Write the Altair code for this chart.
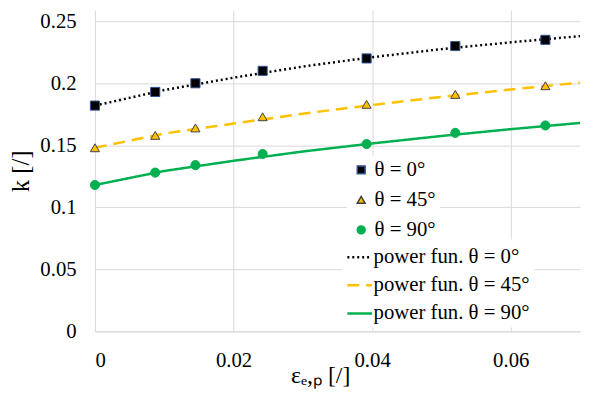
import altair as alt
import pandas as pd

# measured points
x_pts = [0, 0.0087, 0.0145, 0.0242, 0.0392, 0.052, 0.065]
k_0 = [0.182, 0.193, 0.200, 0.210, 0.220, 0.230, 0.235]
k_45 = [0.148, 0.158, 0.164, 0.173, 0.183, 0.191, 0.198]
k_90 = [0.118, 0.128, 0.134, 0.143, 0.151, 0.160, 0.166]

# power-function fit curves
x_fit = [0, 0.01, 0.02, 0.03, 0.04, 0.05, 0.06, 0.07]
f_0 = [0.182, 0.1945, 0.2045, 0.2135, 0.2210, 0.2275, 0.2330, 0.2380]
f_45 = [0.148, 0.1595, 0.1675, 0.1755, 0.1825, 0.1890, 0.1950, 0.2005]
f_90 = [0.118, 0.1293, 0.1375, 0.1450, 0.1515, 0.1575, 0.1630, 0.1680]

pt_names = ["θ = 0°", "θ = 45°", "θ = 90°"]
fit_names = ["power fun. θ = 0°", "power fun. θ = 45°", "power fun. θ = 90°"]

pts = pd.concat([
    pd.DataFrame({"x": x_pts, "k": v, "series": n})
    for v, n in zip([k_0, k_45, k_90], pt_names)
])
fits = pd.concat([
    pd.DataFrame({"x": x_fit, "k": v, "fit": n})
    for v, n in zip([f_0, f_45, f_90], fit_names)
])

FONT = "Liberation Serif"
xscale = alt.Scale(domain=[0, 0.07], nice=False, zero=False)
yscale = alt.Scale(domain=[0, 0.2588], nice=False)

xaxis = alt.Axis(values=[0, 0.02, 0.04, 0.06], format="~g", title="εₑ,ₚ [/]",
                 titleX=228, titleY=52, titleBaseline="alphabetic", titleAlign="center",
                 titleFontSize=24, labelFont=FONT, titleFont=FONT)
yaxis = alt.Axis(values=[0, 0.05, 0.1, 0.15, 0.2, 0.25], format="~g", title="k [/]",
                 domain=False, titlePadding=6, titleFontSize=25, labelFont=FONT, titleFont=FONT)

pad = "\u00a0" * 30
pad2 = "\u00a0" * 12

lines = alt.Chart(fits).mark_line(strokeWidth=2.5).encode(
    x=alt.X("x:Q", scale=xscale, axis=xaxis),
    y=alt.Y("k:Q", scale=yscale, axis=yaxis),
    color=alt.Color("fit:N", scale=alt.Scale(domain=fit_names, range=["#000000", "#FFC000", "#00B050"]),
                    legend=alt.Legend(title=None, orient="none", legendX=250, legendY=232,
                                      symbolType="stroke", symbolSize=625, symbolStrokeWidth=2.5,
                                      labelOffset=0, rowPadding=4.4, padding=4,
                                      fillColor="white", labelLimit=500, labelFont=FONT,
                                      labelExpr="datum.label + '" + pad2 + "'")),
    strokeDash=alt.StrokeDash("fit:N", scale=alt.Scale(domain=fit_names, range=[[2, 3], [12, 7], [1, 0]]),
                              legend=alt.Legend(title=None)),
    detail="fit:N",
)

points = alt.Chart(pts).mark_point(opacity=1, strokeWidth=1, size=85).encode(
    x=alt.X("x:Q", scale=xscale),
    y=alt.Y("k:Q", scale=yscale),
    shape=alt.Shape("series:N", scale=alt.Scale(domain=pt_names, range=["square", "triangle-up", "circle"]),
                    legend=alt.Legend(title=None, orient="none", legendX=255, legendY=147,
                                      symbolSize=64, labelOffset=3, rowPadding=8.4, padding=4,
                                      fillColor="white", labelLimit=500, labelFont=FONT,
                                      labelExpr="datum.label + '" + pad + "'")),
    fill=alt.Fill("series:N", scale=alt.Scale(domain=pt_names, range=["#000000", "#FFC000", "#00B050"]),
                  legend=alt.Legend(title=None)),
    stroke=alt.Stroke("series:N", scale=alt.Scale(domain=pt_names, range=["#2F5597", "#404040", "#00B050"]),
                      legend=alt.Legend(title=None)),
)

chart = alt.layer(lines, points).properties(
    width=491, height=325,
    autosize=alt.AutoSizeParams(type="none"),
    padding={"left": 88, "top": 0, "right": 2, "bottom": 58},
).configure(font=FONT).configure_axis(
    labelFont=FONT, labelFontSize=21, labelColor="#000000",
    titleFont=FONT, titleColor="#000000", titleFontWeight="normal",
    gridColor="#D9D9D9", gridWidth=1, domainColor="#D9D9D9", ticks=False,
    labelPadding=19,
).configure_legend(
    labelFont=FONT, labelFontSize=21, labelColor="#000000",
).configure_view(stroke=None)

chart.save("out.html", embed_options={"renderer": "svg", "actions": False})
